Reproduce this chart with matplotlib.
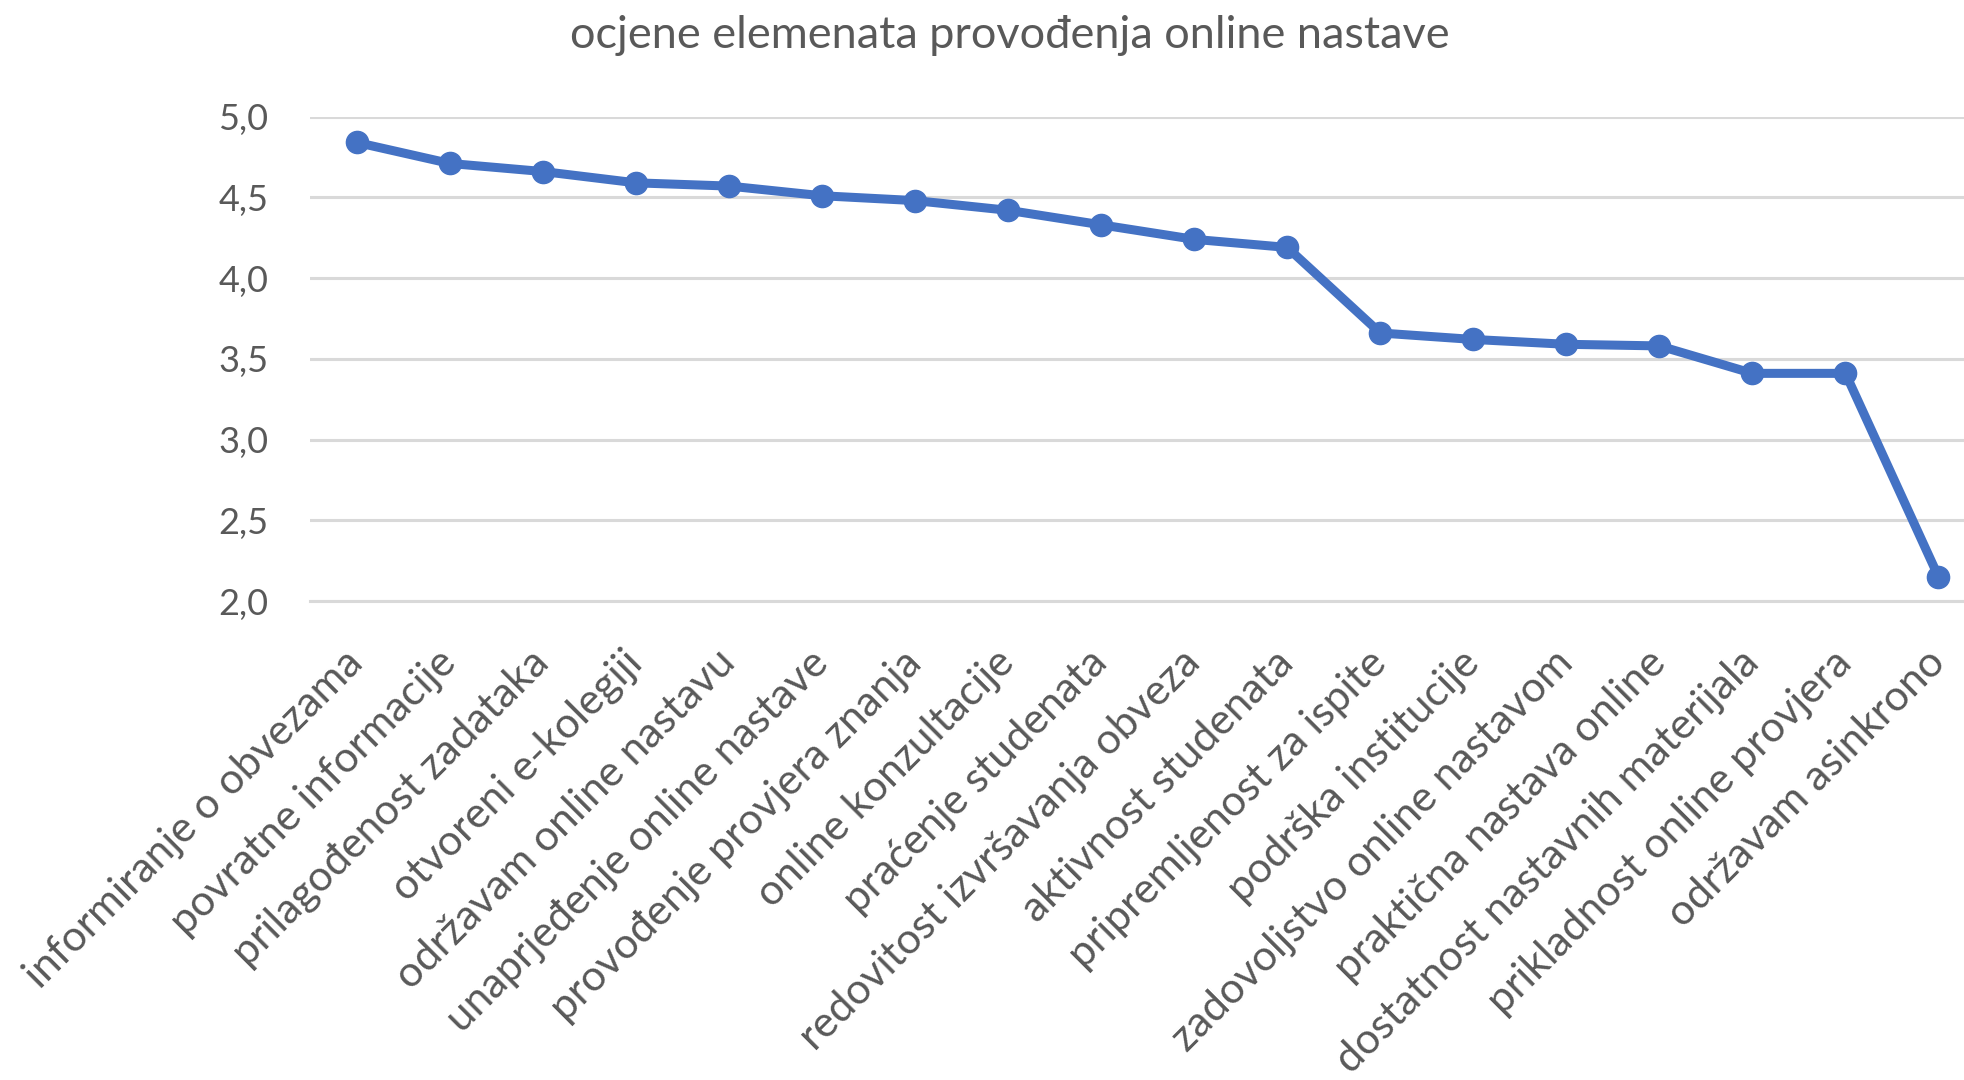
import matplotlib
matplotlib.use("Agg")
import matplotlib.pyplot as plt

categories = [
    "informiranje o obvezama",
    "povratne informacije",
    "prilagođenost zadataka",
    "otvoreni e-kolegiji",
    "održavam online nastavu",
    "unaprjeđenje online nastave",
    "provođenje provjera znanja",
    "online konzultacije",
    "praćenje studenata",
    "redovitost izvršavanja obveza",
    "aktivnost studenata",
    "pripremljenost za ispite",
    "podrška institucije",
    "zadovoljstvo online nastavom",
    "praktična nastava online",
    "dostatnost nastavnih materijala",
    "prikladnost online provjera",
    "održavam asinkrono",
]
scores = [4.84, 4.71, 4.66, 4.59, 4.57, 4.51, 4.48, 4.42, 4.33, 4.24,
          4.19, 3.66, 3.62, 3.59, 3.58, 3.41, 3.41, 2.15]
y_ticks = [2.0, 2.5, 3.0, 3.5, 4.0, 4.5, 5.0]
y_labels = ["2,0", "2,5", "3,0", "3,5", "4,0", "4,5", "5,0"]

text_gray = "#595959"
grid_gray = "#D9D9D9"
blue = "#4472C4"
plt.rcParams["font.family"] = ["Lato", "DejaVu Sans"]

fig = plt.figure(figsize=(19.64, 10.80), dpi=100)
ax = fig.add_axes([0.158, 0.4435, 0.8527, 0.4485])

x = list(range(len(categories)))
ax.plot(x, scores, "-o", color=blue, lw=6.5, markersize=16, zorder=3,
        solid_joinstyle="round")

ax.set_xlim(-0.5, len(categories) - 0.5)
ax.set_ylim(2.0, 5.0)
ax.set_yticks(y_ticks)
ax.set_yticklabels(y_labels, color=text_gray, fontsize=26)
ax.grid(axis="y", color=grid_gray, lw=2.2)
ax.set_axisbelow(True)

ax.set_xticks(x)
ax.set_xticklabels(categories, rotation=45, ha="right", va="center",
                   rotation_mode="anchor", color=text_gray, fontsize=30.5)
ax.tick_params(axis="both", length=0)
ax.tick_params(axis="x", pad=40)
ax.tick_params(axis="y", pad=30)

for side in ["top", "right", "left"]:
    ax.spines[side].set_visible(False)
ax.spines["bottom"].set_color(grid_gray)
ax.spines["bottom"].set_linewidth(2.2)

fig.text(0.514, 0.967, "ocjene elemenata provođenja online nastave",
         ha="center", va="center", fontsize=32.5, color=text_gray)

fig.savefig("out.png", dpi=100)
